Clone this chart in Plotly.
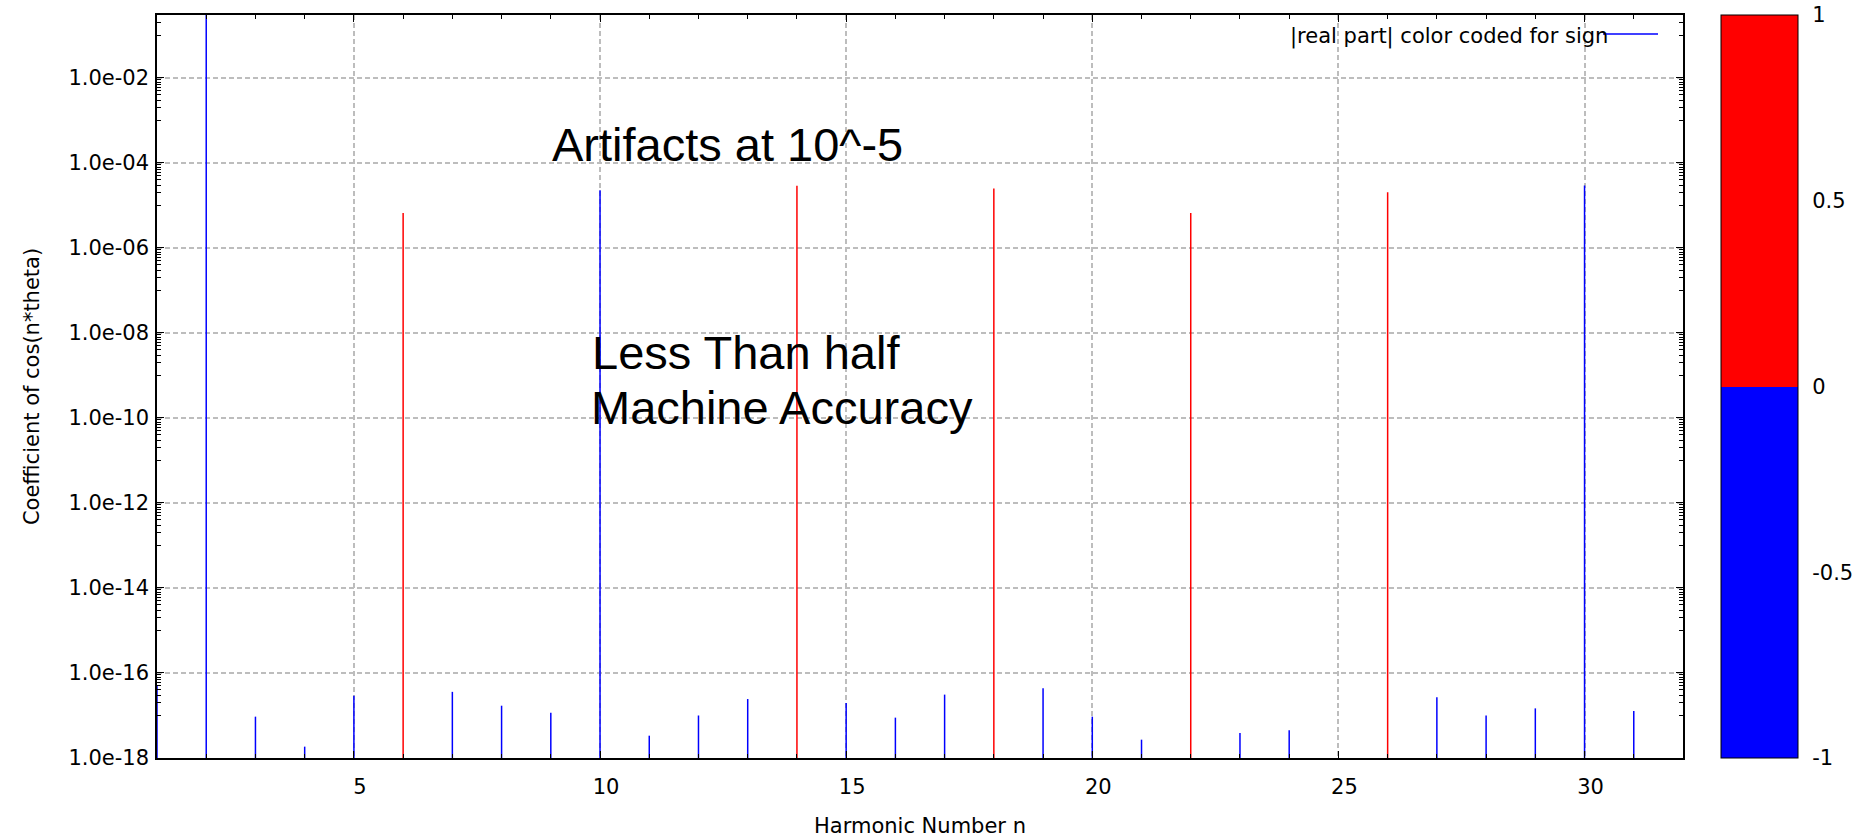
import plotly.graph_objects as go

# ---------------- data ----------------
harmonic_n = list(range(1, 32))
abs_real_part = [
    5.0e-17,   # 1
    0.5,       # 2
    9.4e-18,   # 3
    1.85e-18,  # 4
    2.9e-17,   # 5
    6.6e-6,    # 6
    3.6e-17,   # 7
    1.7e-17,   # 8
    1.16e-17,  # 9
    2.27e-5,   # 10
    3.35e-18,  # 11
    1.0e-17,   # 12
    2.44e-17,  # 13
    2.92e-5,   # 14
    1.97e-17,  # 15
    8.9e-18,   # 16
    3.1e-17,   # 17
    2.5e-5,    # 18
    4.4e-17,   # 19
    9.4e-18,   # 20
    2.7e-18,   # 21
    6.6e-6,    # 22
    3.9e-18,   # 23
    4.5e-18,   # 24
    None,      # 25 (below range)
    2.04e-5,   # 26
    2.7e-17,   # 27
    1.0e-17,   # 28
    1.47e-17,  # 29
    2.94e-5,   # 30
    1.28e-17,  # 31
]
sign = [-1, -1, -1, -1, -1, 1, -1, -1, -1, -1,
        -1, -1, -1, 1, -1, -1, -1, 1, -1, -1,
        -1, 1, -1, -1, -1, 1, -1, -1, -1, -1, -1]

x_tick_vals = [5, 10, 15, 20, 25, 30]
y_tick_exps = [-18, -16, -14, -12, -10, -8, -6, -4, -2]
y_tick_text = ["1.0e-18", "1.0e-16", "1.0e-14", "1.0e-12", "1.0e-10",
               "1.0e-08", "1.0e-06", "1.0e-04", "1.0e-02"]
cbar_tick_vals = [-1, -0.5, 0, 0.5, 1]
cbar_tick_text = ["-1", "-0.5", "0", "0.5", "1"]

# ---------------- styling ----------------
W, H = 1860, 840
ML, MR, MT, MB = 157, 177, 15, 82
PW, PH = W - ML - MR, H - MT - MB
Y_LOG_RANGE = [-18, -0.52]
Y_FLOOR = 10 ** Y_LOG_RANGE[0]
TICK_FONT = dict(family="DejaVu Sans", size=21, color="black")
BIG_FONT = dict(family="Liberation Sans, Arial", size=47, color="black")
RED, BLUE = "#ff0000", "#0000ff"
GRID = "#bdbdbd"


def px_x(px):
    return (px - ML) / PW


def px_y(py):
    return (H - MB - py) / PH


fig = go.Figure()

# stems ("impulses") coloured by sign
for s, col in ((1, RED), (-1, BLUE)):
    xs, ys = [], []
    for n, v, sg in zip(harmonic_n, abs_real_part, sign):
        if v is None or sg != s:
            continue
        xs += [n, n, None]
        ys += [Y_FLOOR, v, None]
    fig.add_trace(go.Scatter(x=xs, y=ys, mode="lines",
                             line=dict(color=col, width=1.5),
                             showlegend=False, hoverinfo="skip"))

# invisible carrier trace for the sign colour bar
fig.add_trace(go.Scatter(
    x=harmonic_n, y=[v if v is not None else Y_FLOOR for v in abs_real_part],
    mode="markers", showlegend=False, hoverinfo="skip",
    marker=dict(size=1, opacity=0, color=sign, cmin=-1, cmax=1,
                colorscale=[[0, BLUE], [0.5, BLUE], [0.5, RED], [1, RED]],
                showscale=True,
                colorbar=dict(x=px_x(1721), xanchor="left", xpad=0,
                              y=0.5, yanchor="middle", len=1, lenmode="fraction",
                              ypad=0, thickness=77,
                              outlinewidth=1, outlinecolor="black",
                              tickvals=cbar_tick_vals, ticktext=cbar_tick_text,
                              ticks="outside", ticklen=10,
                              tickcolor="rgba(0,0,0,0)",
                              tickfont=TICK_FONT))))

minor_y = [m * 10.0 ** e for e in range(-17, 0, 2) for m in range(1, 10)
           if m * 10.0 ** e <= 10 ** Y_LOG_RANGE[1]]

fig.update_layout(
    width=W, height=H,
    margin=dict(l=ML, r=MR, t=MT, b=MB, autoexpand=False),
    paper_bgcolor="white", plot_bgcolor="white",
    showlegend=False,
    xaxis=dict(range=[1, 32], tickvals=x_tick_vals,
               ticks="inside", ticklen=7, tickwidth=1, tickcolor="black",
               mirror="allticks", showline=True, linecolor="black", linewidth=1.5,
               showgrid=True, gridcolor=GRID, gridwidth=1.5, griddash="5px,3px",
               zeroline=False,
               minor=dict(dtick=1, tick0=0, ticks="inside", ticklen=4,
                          tickcolor="black", showgrid=False),
               tickfont=TICK_FONT, ticklabelstandoff=9, ticklabelshift=6,
               title=dict(text="Harmonic Number n", font=TICK_FONT, standoff=20)),
    yaxis=dict(type="log", range=Y_LOG_RANGE,
               tickvals=[10.0 ** e for e in y_tick_exps], ticktext=y_tick_text,
               ticks="inside", ticklen=7, tickwidth=1, tickcolor="black",
               mirror="allticks", showline=True, linecolor="black", linewidth=1.5,
               showgrid=True, gridcolor=GRID, gridwidth=1.5, griddash="5px,3px",
               zeroline=False,
               minor=dict(tickvals=minor_y, ticks="inside", ticklen=4,
                          tickcolor="black", showgrid=False),
               tickfont=TICK_FONT, ticklabelstandoff=2,
               title=dict(text="Coefficient of cos(n*theta)", font=TICK_FONT,
                          standoff=23)),
)

# text labels
fig.add_annotation(text="Artifacts at 10^-5", xref="paper", yref="paper",
                   x=px_x(551), y=px_y(144.4), xanchor="left", yanchor="middle",
                   showarrow=False, font=BIG_FONT, borderpad=0)
fig.add_annotation(text="Less Than half", xref="paper", yref="paper",
                   x=px_x(590.5), y=px_y(352), xanchor="left", yanchor="middle",
                   showarrow=False, font=BIG_FONT, borderpad=0)
fig.add_annotation(text="Machine Accuracy", xref="paper", yref="paper",
                   x=px_x(590), y=px_y(407), xanchor="left", yanchor="middle",
                   showarrow=False, font=BIG_FONT, borderpad=0)

# key (gnuplot style: text then sample line)
fig.add_annotation(text="|real part| color coded for sign", xref="paper", yref="paper",
                   x=px_x(1609), y=px_y(36), xanchor="right", yanchor="middle",
                   showarrow=False, font=TICK_FONT, borderpad=0)
fig.add_shape(type="line", xref="paper", yref="paper",
              x0=px_x(1603), x1=px_x(1658), y0=px_y(34), y1=px_y(34),
              line=dict(color=BLUE, width=1.5))

fig.write_html("out.html")
